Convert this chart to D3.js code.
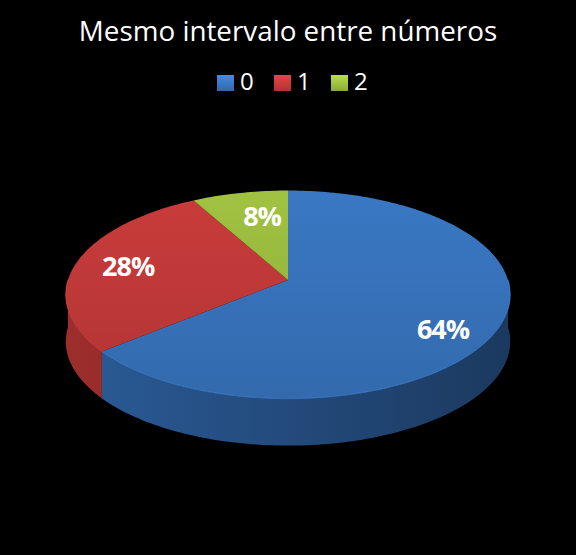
<!DOCTYPE html>
<html>
<head>
<meta charset="utf-8">
<script src="https://cdn.jsdelivr.net/npm/d3@7"></script>
<style>
  body { margin: 0; background: #000; }
  svg { display: block; }
</style>
</head>
<body>
<svg id="chart" width="576" height="555"></svg>
<script>
// chart data
const categories = ["0", "1", "2"];
const values = [64, 28, 8];
const labels = ["64%", "28%", "8%"];
const colors = ["#3874bd", "#c23a39", "#9bbb3f"];
const sideColors = ["#2c5e9c", "#a3302e", "#7a9830"];

const svg = d3.select("svg#chart");
const W = 576;

// title
svg.append("text")
  .attr("x", W / 2)
  .attr("y", 41)
  .attr("text-anchor", "middle")
  .attr("fill", "#fff")
  .style("font-family", "'Open Sans', sans-serif")
  .style("font-size", "27.8px")
  .text("Mesmo intervalo entre números");

const defs = svg.append("defs");

// legend
const legendX = d3.scalePoint().domain(categories).range([217, 331]);
const leg = svg.append("g").selectAll("g")
  .data(categories)
  .enter().append("g")
  .attr("transform", d => "translate(" + legendX(d) + ",75)");

categories.forEach(function (c, i) {
  const g = defs.append("linearGradient").attr("id", "lg" + i)
    .attr("x1", 0).attr("y1", 0).attr("x2", 0).attr("y2", 1);
  g.append("stop").attr("offset", 0).attr("stop-color", d3.color(colors[i]).brighter(0.5));
  g.append("stop").attr("offset", 1).attr("stop-color", d3.color(colors[i]).darker(0.3));
});

leg.append("rect")
  .attr("width", 17).attr("height", 16)
  .attr("fill", (d, i) => "url(#lg" + i + ")");
leg.append("text")
  .attr("x", 23).attr("y", 15)
  .attr("fill", "#fff")
  .style("font-family", "'Open Sans', sans-serif")
  .style("font-size", "24px")
  .text(d => d);

// 3D pie: angles from d3.pie, projected with a little perspective
const pie = d3.pie().sort(null).value(d => d)(values);

const cx = 288, cy = 280, R = 1;
const persp = 0.14, Fx = 220, Fy = 102, depth = 47;

function project(a, r, h) {
  const X = Math.sin(a) * r;
  const Z = -Math.cos(a) * r;   // + toward viewer
  const w = 1 / (1 - persp * Z);
  return [cx + Fx * X * w, cy + Fy * Z * w + h * depth];
}

function arcPts(a0, a1, r, h) {
  const n = Math.max(2, Math.ceil((a1 - a0) / 0.02));
  return d3.range(n + 1).map(k => project(a0 + (a1 - a0) * k / n, r, h));
}

const line = d3.line();
const pieG = svg.append("g");

pie.forEach(function (p, i) {
  const g = defs.append("linearGradient").attr("id", "sg" + i)
    .attr("gradientUnits", "userSpaceOnUse")
    .attr("x1", 66).attr("y1", 0).attr("x2", 511).attr("y2", 0);
  g.append("stop").attr("offset", 0).attr("stop-color", d3.color(sideColors[i]).darker(0.1));
  g.append("stop").attr("offset", 0.45).attr("stop-color", d3.color(sideColors[i]).darker(0.6));
  g.append("stop").attr("offset", 1).attr("stop-color", d3.color(sideColors[i]).darker(1.4));
  const t = defs.append("linearGradient").attr("id", "tg" + i)
    .attr("gradientUnits", "userSpaceOnUse")
    .attr("x1", 0).attr("y1", 190).attr("x2", 0).attr("y2", 400);
  t.append("stop").attr("offset", 0).attr("stop-color", d3.color(colors[i]).brighter(0.1));
  t.append("stop").attr("offset", 1).attr("stop-color", d3.color(colors[i]).darker(0.25));
});

// outer side walls (front half only)
pie.forEach(function (p, i) {
  const a0 = Math.max(p.startAngle, Math.PI / 2);
  const a1 = Math.min(p.endAngle, 3 * Math.PI / 2);
  if (a1 <= a0) return;
  const top = arcPts(a0, a1, R, 0);
  const bot = arcPts(a0, a1, R, 1).reverse();
  pieG.append("path")
    .attr("d", line(top.concat(bot)) + "Z")
    .attr("fill", "url(#sg" + i + ")");
});

// top faces
pie.forEach(function (p, i) {
  const pts = [project(0, 0, 0)].concat(arcPts(p.startAngle, p.endAngle, R, 0));
  pieG.append("path")
    .attr("d", line(pts) + "Z")
    .attr("fill", "url(#tg" + i + ")");
});

// thin highlight along the front rim
pie.forEach(function (p, i) {
  const a0 = Math.max(p.startAngle, Math.PI / 2);
  const a1 = Math.min(p.endAngle, 3 * Math.PI / 2);
  if (a1 <= a0) return;
  pieG.append("path")
    .attr("d", line(arcPts(a0, a1, R, 0)))
    .attr("fill", "none")
    .attr("stroke", d3.color(colors[i]).brighter(0.6))
    .attr("stroke-opacity", 0.6)
    .attr("stroke-width", 1);
});

// labels: [fraction along slice angle, radius]
const labelPos = [[0.54, 0.80], [0.50, 0.754], [0.63, 0.70]];
pie.forEach(function (p, i) {
  const a = p.startAngle + (p.endAngle - p.startAngle) * labelPos[i][0];
  const pt = project(a, labelPos[i][1], 0);
  svg.append("text")
    .attr("x", pt[0])
    .attr("y", pt[1])
    .attr("dy", "0.36em")
    .attr("text-anchor", "middle")
    .attr("fill", "#fff")
    .style("font-family", "'Open Sans', sans-serif")
    .style("font-weight", "bold")
    .style("font-size", "27px")
    .style("letter-spacing", "-1px")
    .text(labels[i]);
});
</script>
</body>
</html>
